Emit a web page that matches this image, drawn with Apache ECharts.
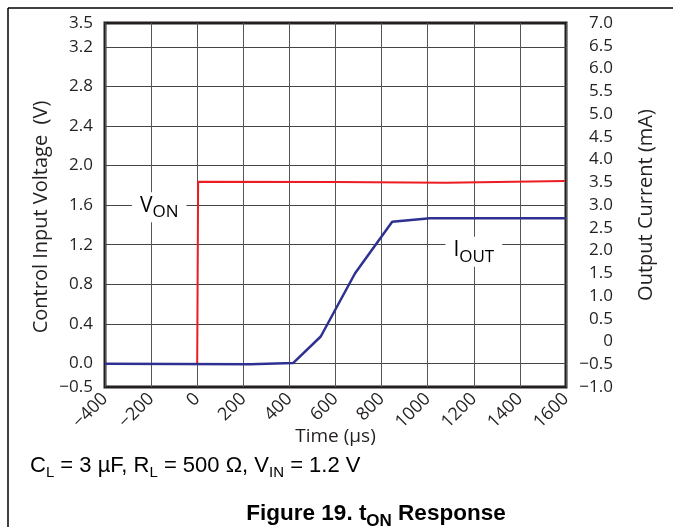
<!DOCTYPE html>
<html>
<head>
<meta charset="utf-8">
<script src="https://cdn.jsdelivr.net/npm/echarts@6/dist/echarts.min.js"></script>
<style>
html,body{margin:0;padding:0;background:#fff;}
#c{width:673px;height:527px;}
</style>
</head>
<body>
<div id="c"></div>
<script>
// ---- data ----
const timeVon = [-400, 0, 4, 600, 1080, 1595];          // µs
const vOn = [-0.005, -0.005, 1.836, 1.833, 1.826, 1.843]; // V
const timeIout = [-400, 229, 417, 536, 685, 846, 1010, 1600]; // µs
const iOut = [-0.49, -0.5, -0.47, 0.11, 1.5, 2.63, 2.71, 2.71]; // mA

const xTicks = [-400, -200, 0, 200, 400, 600, 800, 1000, 1200, 1400, 1600];
const leftTickValues = [0, 0.4, 0.8, 1.2, 1.6, 2.0, 2.4, 2.8, 3.2];
const leftMin = -0.237, leftMax = 3.44;
const leftEdgeLabels = ['\u22120.5', '3.5'];
const rightTicks = [-1.0, -0.5, 0, 0.5, 1.0, 1.5, 2.0, 2.5, 3.0, 3.5, 4.0, 4.5, 5.0, 5.5, 6.0, 6.5, 7.0];

const FONT = '"Open Sans", "DejaVu Sans", sans-serif';
const ARIAL = '"Liberation Sans", Arial, sans-serif';
const TXT = '#231f20';

function fmtMinus(s){ return s.replace('-', '\u2212'); }

const chart = echarts.init(document.getElementById('c'), null, {renderer: 'canvas'});

const option = {
  animation: false,
  backgroundColor: '#fff',
  grid: {left: 105, right: 107, top: 23, bottom: 140, show: true,
         borderColor: '#231f20', borderWidth: 3, backgroundColor: 'transparent'},
  xAxis: {
    type: 'value', min: xTicks[0], max: xTicks[xTicks.length - 1], interval: 200,
    name: 'Time (\u00b5s)', nameLocation: 'middle', nameGap: 40, nameMoveOverlap: false,
    nameTextStyle: {fontFamily: FONT, fontSize: 19, color: TXT},
    axisLine: {show: false}, axisTick: {show: false},
    axisLabel: {rotate: 45, fontFamily: FONT, fontSize: 18, color: TXT, margin: 9,
      formatter: v => fmtMinus(String(v))},
    splitLine: {show: true, lineStyle: {color: '#555', width: 1}}
  },
  yAxis: [
    {
      type: 'value', min: leftMin, max: leftMax, position: 'left',
      name: 'Control Input Voltage  (V)', nameLocation: 'middle', nameGap: 54, nameMoveOverlap: false,
      nameTextStyle: {fontFamily: FONT, fontSize: 20, color: TXT, padding: [0, 24, 0, 0]},
      axisLine: {show: false},
      axisTick: {show: false, customValues: leftTickValues},
      axisLabel: {fontFamily: FONT, fontSize: 17, color: TXT, margin: 12,
        customValues: [leftMin].concat(leftTickValues, [leftMax]),
        formatter: v => {
          if (Math.abs(v - leftMin) < 1e-6) return leftEdgeLabels[0];
          if (Math.abs(v - leftMax) < 1e-6) return leftEdgeLabels[1];
          return v.toFixed(1);
        }},
      splitLine: {show: true, lineStyle: {color: '#444', width: 1}}
    },
    {
      type: 'value', min: rightTicks[0], max: rightTicks[rightTicks.length - 1], interval: 0.5,
      position: 'right',
      name: 'Output Current (mA)', nameLocation: 'middle', nameGap: 70, nameMoveOverlap: false,
      nameTextStyle: {fontFamily: FONT, fontSize: 20, color: TXT},
      axisLine: {show: false}, axisTick: {show: false},
      axisLabel: {fontFamily: FONT, fontSize: 17, color: TXT, margin: 47, align: 'right',
        formatter: v => (v === 0 ? '0' : fmtMinus(v.toFixed(1)))},
      splitLine: {show: false}
    }
  ],
  series: [
    {
      name: 'VON', type: 'line', yAxisIndex: 0, showSymbol: false, symbol: 'none',
      data: timeVon.map((t, i) => [t, vOn[i]]),
      lineStyle: {color: '#ed1c24', width: 2}, z: 3
    },
    {
      name: 'IOUT', type: 'line', yAxisIndex: 1, showSymbol: false, symbol: 'none',
      data: timeIout.map((t, i) => [t, iOut[i]]),
      lineStyle: {color: '#2e3192', width: 2.5}, z: 4
    }
  ]
};
chart.setOption(option);

// annotation anchors (data coordinates of label boxes)
const vonLabelAt = [-165, 1.6];
const ioutLabelAt = [1200, 1.2];
const p1 = chart.convertToPixel({xAxisIndex: 0, yAxisIndex: 0}, vonLabelAt);
const p2 = chart.convertToPixel({xAxisIndex: 0, yAxisIndex: 0}, ioutLabelAt);

const rich = {
  b: {fontFamily: FONT, fontSize: 21, color: '#333', verticalAlign: 'top', lineHeight: 24},
  s: {fontFamily: FONT, fontSize: 17, color: '#333', verticalAlign: 'top', lineHeight: 20, padding: [9, 0, 0, 0]}
};

chart.setOption({
  graphic: [
    {type: 'line', shape: {x1: 8, y1: 8, x2: 673, y2: 8}, style: {stroke: '#000', lineWidth: 1.5}, silent: true},
    {type: 'line', shape: {x1: 8, y1: 8, x2: 8, y2: 527}, style: {stroke: '#000', lineWidth: 1.5}, silent: true},
    {type: 'text', x: p1[0], y: p1[1] + 2, z: 10,
      style: {text: '{b|V}{s|ON}', rich: rich, align: 'center', verticalAlign: 'middle',
        backgroundColor: '#fff', padding: [3, 8, 3, 8]}},
    {type: 'text', x: p2[0], y: p2[1] + 7, z: 10,
      style: {text: '{b|I}{s|OUT}', rich: rich, align: 'center', verticalAlign: 'middle',
        backgroundColor: '#fff', padding: [3, 8, 3, 8]}},
    {type: 'text', x: 30, y: 467, z: 10,
      style: {text: '{n|C}{t|L}{n| = 3 \u00b5F, R}{t|L}{n| = 500 \u03a9, V}{t|IN}{n| = 1.2 V}',
        verticalAlign: 'middle', align: 'left',
        rich: {
          n: {fontFamily: ARIAL, fontSize: 22, color: '#000', verticalAlign: 'top', lineHeight: 25},
          t: {fontFamily: ARIAL, fontSize: 15, color: '#000', verticalAlign: 'top', lineHeight: 18, padding: [11, 0, 0, 0]}
        }}},
    {type: 'text', x: 376, y: 515, z: 10,
      style: {text: '{n|Figure 19. t}{t|ON}{n| Response}',
        verticalAlign: 'middle', align: 'center',
        rich: {
          n: {fontFamily: ARIAL, fontSize: 22.5, fontWeight: 'bold', color: '#000', verticalAlign: 'top', lineHeight: 25},
          t: {fontFamily: ARIAL, fontSize: 17, fontWeight: 'bold', color: '#000', verticalAlign: 'top', lineHeight: 18, padding: [10, 0, 0, 0]}
        }}}
  ]
});
</script>
</body>
</html>
